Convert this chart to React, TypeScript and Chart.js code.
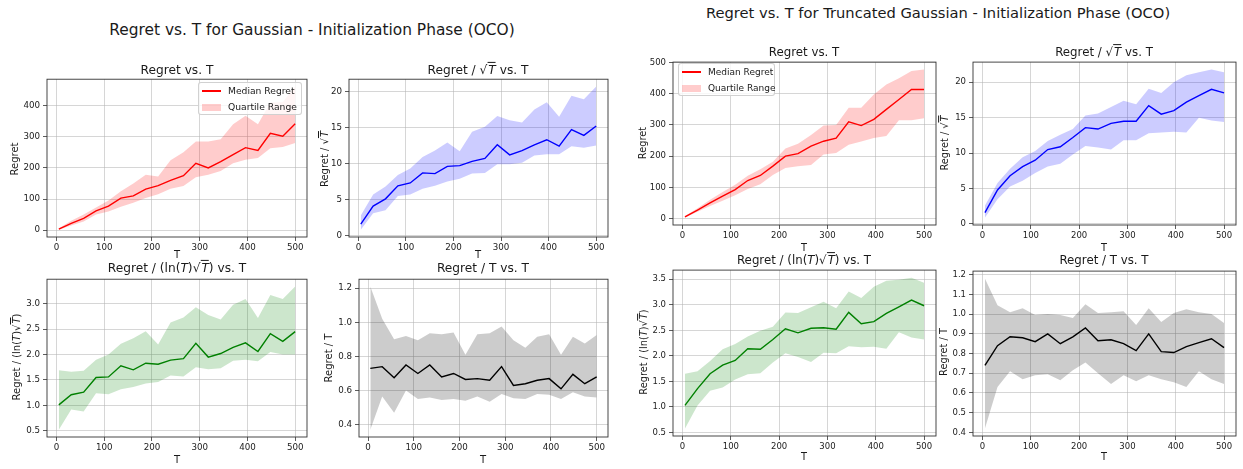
import React, { useEffect, useRef } from 'react';
import { Chart, registerables } from 'chart.js';

Chart.register(...registerables);

// ---------- data ----------
const T_VALUES = [5, 31, 57, 83, 109, 135, 161, 187, 213, 239, 266, 292, 318, 344, 370, 396, 422, 448, 474, 500];
const X_TICKS = [0, 100, 200, 300, 400, 500];

// Gaussian
const G_REG_MED = [3, 22, 38, 62, 77, 103, 110, 132, 143, 160, 175, 215, 200, 220, 243, 265, 256, 311, 302, 342];
const G_REG_HI = [6, 30, 50, 73, 95, 125, 150, 178, 172, 225, 250, 285, 285, 292, 340, 368, 340, 410, 412, 462];
const G_REG_LO = [1, 15, 28, 50, 60, 75, 88, 103, 115, 133, 142, 170, 178, 190, 215, 226, 232, 263, 267, 280];

const G_SQ_MED = [1.6, 4.1, 5.1, 6.9, 7.3, 8.7, 8.6, 9.6, 9.7, 10.3, 10.7, 12.6, 11.2, 11.8, 12.6, 13.3, 12.4, 14.7, 13.9, 15.2];
const G_SQ_HI = [2.8, 5.7, 6.8, 8.4, 9.3, 10.9, 11.8, 12.9, 11.7, 14.4, 15.1, 16.6, 16.0, 15.7, 17.5, 18.5, 16.5, 19.4, 18.9, 20.7];
const G_SQ_LO = [0.8, 3.1, 3.5, 5.5, 5.7, 6.5, 6.9, 7.5, 7.9, 8.6, 8.7, 9.9, 9.9, 10.1, 11.1, 11.3, 11.3, 12.4, 12.2, 12.5];

const G_LN_MED = [1.01, 1.21, 1.26, 1.55, 1.56, 1.78, 1.70, 1.83, 1.81, 1.89, 1.92, 2.22, 1.95, 2.02, 2.14, 2.23, 2.06, 2.41, 2.26, 2.45];
const G_LN_HI = [1.69, 1.66, 1.68, 1.90, 2.00, 2.21, 2.32, 2.46, 2.20, 2.63, 2.73, 2.93, 2.78, 2.69, 2.98, 3.09, 2.72, 3.17, 3.09, 3.34];
const G_LN_LO = [0.52, 0.92, 0.88, 1.24, 1.22, 1.32, 1.36, 1.43, 1.46, 1.59, 1.57, 1.75, 1.71, 1.73, 1.88, 1.90, 1.87, 2.05, 2.00, 2.00];

const G_T_MED = [0.73, 0.74, 0.675, 0.75, 0.70, 0.75, 0.68, 0.70, 0.665, 0.67, 0.66, 0.74, 0.63, 0.64, 0.66, 0.67, 0.61, 0.695, 0.64, 0.68];
const G_T_HI = [1.21, 1.02, 0.90, 0.92, 0.895, 0.935, 0.93, 0.94, 0.81, 0.93, 0.935, 0.975, 0.895, 0.85, 0.915, 0.93, 0.81, 0.915, 0.875, 0.925];
const G_T_LO = [0.37, 0.565, 0.47, 0.60, 0.55, 0.56, 0.545, 0.55, 0.54, 0.565, 0.535, 0.58, 0.555, 0.55, 0.58, 0.575, 0.55, 0.59, 0.565, 0.56];

// Truncated Gaussian
const TG_REG_MED = [5, 27, 50, 72, 93, 122, 138, 168, 200, 208, 232, 248, 258, 310, 298, 318, 350, 382, 414, 414];
const TG_REG_HI = [8, 33, 60, 85, 108, 137, 158, 182, 225, 240, 268, 298, 300, 355, 355, 398, 430, 450, 473, 478];
const TG_REG_LO = [3, 22, 40, 57, 75, 95, 110, 140, 162, 168, 172, 205, 210, 237, 247, 258, 265, 315, 315, 322];

const TG_SQ_MED = [1.6, 4.8, 6.8, 8.1, 9.0, 10.5, 10.9, 12.2, 13.6, 13.4, 14.2, 14.5, 14.5, 16.7, 15.5, 16.0, 17.2, 18.1, 19.0, 18.5];
const TG_SQ_HI = [2.6, 5.8, 7.8, 9.4, 10.3, 11.7, 12.6, 13.4, 15.3, 15.6, 16.5, 17.4, 16.9, 19.1, 18.5, 20.0, 21.0, 21.4, 21.8, 21.4];
const TG_SQ_LO = [0.9, 3.5, 5.3, 6.1, 7.2, 8.1, 8.5, 9.8, 11.0, 10.8, 10.5, 11.8, 11.8, 12.8, 12.9, 13.0, 12.9, 15.0, 14.6, 14.4];

const TG_LN_MED = [1.03, 1.36, 1.65, 1.82, 1.91, 2.14, 2.13, 2.32, 2.53, 2.45, 2.54, 2.55, 2.52, 2.85, 2.63, 2.67, 2.83, 2.96, 3.09, 2.98];
const TG_LN_HI = [1.65, 1.70, 1.90, 2.13, 2.23, 2.38, 2.49, 2.57, 2.85, 2.84, 2.95, 3.06, 2.93, 3.26, 3.13, 3.35, 3.47, 3.49, 3.53, 3.43];
const TG_LN_LO = [0.58, 1.03, 1.32, 1.38, 1.54, 1.64, 1.66, 1.87, 2.05, 1.98, 1.88, 2.06, 2.05, 2.19, 2.17, 2.18, 2.14, 2.46, 2.36, 2.32];

const TG_T_MED = [0.74, 0.84, 0.885, 0.88, 0.86, 0.90, 0.85, 0.885, 0.93, 0.865, 0.87, 0.85, 0.815, 0.90, 0.81, 0.805, 0.835, 0.855, 0.875, 0.83];
const TG_T_HI = [1.18, 1.045, 1.01, 1.03, 0.995, 1.00, 0.995, 0.98, 1.05, 1.005, 1.01, 1.015, 0.945, 1.03, 0.96, 1.005, 1.025, 1.01, 1.0, 0.955];
const TG_T_LO = [0.42, 0.63, 0.71, 0.67, 0.69, 0.695, 0.665, 0.715, 0.755, 0.70, 0.645, 0.69, 0.66, 0.69, 0.67, 0.655, 0.63, 0.71, 0.67, 0.645];

// tick labels
const G_REG_TICKS = [0, 100, 200, 300, 400];
const TG_REG_TICKS = [0, 100, 200, 300, 400, 500];
const SQ_TICKS = [0, 5, 10, 15, 20];
const G_LN_TICKS = [0.5, 1.0, 1.5, 2.0, 2.5, 3.0];
const TG_LN_TICKS = [0.5, 1.0, 1.5, 2.0, 2.5, 3.0, 3.5];
const G_T_TICKS = [0.4, 0.6, 0.8, 1.0, 1.2];
const TG_T_TICKS = [0.4, 0.5, 0.6, 0.7, 0.8, 0.9, 1.0, 1.1, 1.2];

// ---------- styling ----------
const FONT = '"DejaVu Sans", Verdana, sans-serif';
const YW = 42;
const XH = 20;
const PAD_T = 8;
const PAD_R = 16;

const STYLES: Record<string, { line: string; band: string }> = {
  red: { line: '#ff0000', band: 'rgba(255,0,0,0.2)' },
  blue: { line: '#0000ff', band: 'rgba(0,0,255,0.2)' },
  green: { line: '#008000', band: 'rgba(0,128,0,0.2)' },
  black: { line: '#000000', band: 'rgba(0,0,0,0.2)' },
};

const framePlugin = {
  id: 'frame',
  afterDraw(chart: any) {
    const { ctx, chartArea: a } = chart;
    ctx.save();
    ctx.strokeStyle = '#333';
    ctx.lineWidth = 0.9;
    ctx.strokeRect(a.left, a.top, a.right - a.left, a.bottom - a.top);
    ctx.restore();
  },
};

type PanelSpec = {
  L: number; R: number; T: number; B: number;
  med: number[]; lo: number[]; hi: number[];
  yTicks: number[]; dec: number; color: string; tickSize: number;
};

function Panel({ spec }: { spec: PanelSpec }) {
  const ref = useRef<HTMLCanvasElement>(null);
  const w = spec.R - spec.L + YW + PAD_R;
  const h = spec.B - spec.T + PAD_T + XH;
  useEffect(() => {
    const canvas = ref.current!;
    const st = STYLES[spec.color];
    const xmin = Math.min(...T_VALUES), xmax = Math.max(...T_VALUES);
    const xp = 0.05 * (xmax - xmin);
    const ymin = Math.min(...spec.lo), ymax = Math.max(...spec.hi);
    const yp = 0.05 * (ymax - ymin);
    const pts = (arr: number[]) => T_VALUES.map((t, i) => ({ x: t, y: arr[i] }));
    const grid = {
      color: 'rgba(176,176,176,0.65)',
      lineWidth: 0.8,
      tickColor: '#333',
      tickLength: 4,
      drawTicks: true,
    };
    const tickFont = { family: FONT, size: spec.tickSize };
    const chart = new Chart(canvas, {
      type: 'line',
      data: {
        datasets: [
          { data: pts(spec.med), borderColor: st.line, borderWidth: 1.4, pointRadius: 0, fill: false, tension: 0 },
          { data: pts(spec.lo), borderColor: 'rgba(0,0,0,0)', borderWidth: 1, pointRadius: 0, fill: false, tension: 0 },
          { data: pts(spec.hi), borderColor: 'rgba(0,0,0,0)', borderWidth: 1, pointRadius: 0, fill: '-1', backgroundColor: st.band, tension: 0 },
        ],
      },
      options: {
        animation: false,
        responsive: false,
        maintainAspectRatio: false,
        events: [],
        layout: { padding: { top: PAD_T, right: PAD_R, left: 0, bottom: 0 } },
        plugins: { legend: { display: false }, tooltip: { enabled: false }, title: { display: false } },
        scales: {
          x: {
            type: 'linear',
            min: xmin - xp,
            max: xmax + xp,
            afterBuildTicks: (s: any) => { s.ticks = X_TICKS.map((v) => ({ value: v })); },
            afterFit: (s: any) => { s.height = XH; },
            grid,
            border: { display: false },
            ticks: { font: tickFont, color: '#222', padding: 2, maxRotation: 0, autoSkip: false, callback: (v: any) => String(v) },
          },
          y: {
            type: 'linear',
            min: ymin - yp,
            max: ymax + yp,
            afterBuildTicks: (s: any) => { s.ticks = spec.yTicks.map((v) => ({ value: v })); },
            afterFit: (s: any) => { s.width = YW; },
            grid,
            border: { display: false },
            ticks: { font: tickFont, color: '#222', padding: 3, autoSkip: false, callback: (v: any) => Number(v).toFixed(spec.dec) },
          },
        },
      } as any,
      plugins: [framePlugin],
    });
    return () => chart.destroy();
  }, []);
  return (
    <div style={{ position: 'absolute', left: spec.L - YW, top: spec.T - PAD_T, width: w, height: h }}>
      <canvas ref={ref} width={w} height={h} style={{ width: w, height: h, display: 'block' }} />
    </div>
  );
}

const Sq = ({ children }: { children: any }) => (
  <span>√<span style={{ borderTop: '1px solid currentColor', fontStyle: 'italic', paddingLeft: 1 }}>{children}</span></span>
);

function Txt({ x, y, size, rot, children }: { x: number; y: number; size: number; rot?: boolean; children: any }) {
  return (
    <div
      style={{
        position: 'absolute', left: x, top: y, whiteSpace: 'nowrap', fontSize: size, lineHeight: 1,
        color: '#1a1a1a', fontFamily: FONT,
        transform: `translate(-50%,-50%)${rot ? ' rotate(-90deg)' : ''}`,
      }}
    >
      {children}
    </div>
  );
}

function Legend({ x, y, w, h, size }: { x: number; y: number; w: number; h: number; size: number }) {
  return (
    <div style={{ position: 'absolute', left: x, top: y, width: w, height: h, border: '1px solid rgba(204,204,204,0.9)', borderRadius: 3, background: 'rgba(255,255,255,0.8)', boxSizing: 'border-box', fontFamily: FONT, fontSize: size, color: '#1a1a1a' }}>
      <div style={{ position: 'absolute', left: 3, top: 7, width: 19, height: 1.5, background: '#ff0000' }} />
      <div style={{ position: 'absolute', left: 29, top: 8, transform: 'translateY(-50%)', whiteSpace: 'nowrap', lineHeight: 1 }}>Median Regret</div>
      <div style={{ position: 'absolute', left: 3, top: 20.5, width: 19, height: 7, background: 'rgba(255,0,0,0.2)' }} />
      <div style={{ position: 'absolute', left: 29, top: 24, transform: 'translateY(-50%)', whiteSpace: 'nowrap', lineHeight: 1 }}>Quartile Range</div>
    </div>
  );
}

const PANELS: PanelSpec[] = [
  { L: 47, R: 307, T: 79, B: 237, med: G_REG_MED, lo: G_REG_LO, hi: G_REG_HI, yTicks: G_REG_TICKS, dec: 0, color: 'red', tickSize: 8.7 },
  { L: 349, R: 608, T: 79, B: 237, med: G_SQ_MED, lo: G_SQ_LO, hi: G_SQ_HI, yTicks: SQ_TICKS, dec: 0, color: 'blue', tickSize: 8.7 },
  { L: 47, R: 307, T: 279, B: 437, med: G_LN_MED, lo: G_LN_LO, hi: G_LN_HI, yTicks: G_LN_TICKS, dec: 1, color: 'green', tickSize: 8.7 },
  { L: 359, R: 608, T: 279, B: 437, med: G_T_MED, lo: G_T_LO, hi: G_T_HI, yTicks: G_T_TICKS, dec: 1, color: 'black', tickSize: 8.7 },
  { L: 673, R: 936, T: 62, B: 225, med: TG_REG_MED, lo: TG_REG_LO, hi: TG_REG_HI, yTicks: TG_REG_TICKS, dec: 0, color: 'red', tickSize: 8.5 },
  { L: 973, R: 1236, T: 62, B: 225, med: TG_SQ_MED, lo: TG_SQ_LO, hi: TG_SQ_HI, yTicks: SQ_TICKS, dec: 0, color: 'blue', tickSize: 8.5 },
  { L: 673, R: 936, T: 270, B: 436, med: TG_LN_MED, lo: TG_LN_LO, hi: TG_LN_HI, yTicks: TG_LN_TICKS, dec: 1, color: 'green', tickSize: 8.5 },
  { L: 973, R: 1236, T: 271, B: 436, med: TG_T_MED, lo: TG_T_LO, hi: TG_T_HI, yTicks: TG_T_TICKS, dec: 1, color: 'black', tickSize: 8.5 },
];

export default function App() {
  const lnLabel = <span>Regret / (ln(<i>T</i>)<Sq>T</Sq>)</span>;
  const lnTitle = <span>Regret / (ln(<i>T</i>)<Sq>T</Sq>) vs. T</span>;
  return (
    <div style={{ position: 'fixed', left: 0, top: 0, width: 1243, height: 469, overflow: 'hidden', background: '#fff', fontFamily: FONT }}>
      {PANELS.map((p, i) => <Panel key={i} spec={p} />)}

      {/* Left figure */}
      <Txt x={312} y={31} size={15.4}>Regret vs. T for Gaussian - Initialization Phase (OCO)</Txt>
      <Txt x={177} y={70} size={12.2}>Regret vs. T</Txt>
      <Txt x={478} y={70} size={12.2}><span>Regret / <Sq>T</Sq> vs. T</span></Txt>
      <Txt x={177} y={268} size={12.2}>{lnTitle}</Txt>
      <Txt x={483} y={268} size={12.2}>Regret / T vs. T</Txt>
      <Txt x={15} y={159} size={10} rot>Regret</Txt>
      <Txt x={325} y={159} size={10} rot><span>Regret / <Sq>T</Sq></span></Txt>
      <Txt x={17} y={357} size={10} rot>{lnLabel}</Txt>
      <Txt x={329} y={358} size={10} rot>Regret / T</Txt>
      <Txt x={177} y={255} size={10}>T</Txt>
      <Txt x={478} y={255} size={10}>T</Txt>
      <Txt x={177} y={460} size={10}>T</Txt>
      <Txt x={483} y={460} size={10}>T</Txt>
      <Legend x={198} y={82} w={104} h={33} size={9.2} />

      {/* Right figure */}
      <Txt x={938} y={13} size={14.7}>Regret vs. T for Truncated Gaussian - Initialization Phase (OCO)</Txt>
      <Txt x={804} y={53} size={11.8}>Regret vs. T</Txt>
      <Txt x={1104} y={53} size={11.8}><span>Regret / <Sq>T</Sq> vs. T</span></Txt>
      <Txt x={804} y={261} size={11.8}>{lnTitle}</Txt>
      <Txt x={1104} y={261} size={11.8}>Regret / T vs. T</Txt>
      <Txt x={643} y={143} size={9.8} rot>Regret</Txt>
      <Txt x={945} y={143} size={9.8} rot><span>Regret / <Sq>T</Sq></span></Txt>
      <Txt x={644} y={352} size={9.8} rot>{lnLabel}</Txt>
      <Txt x={944} y={352} size={9.8} rot>Regret / T</Txt>
      <Txt x={804} y={248} size={9.8}>T</Txt>
      <Txt x={1104} y={248} size={9.8}>T</Txt>
      <Txt x={804} y={457} size={9.8}>T</Txt>
      <Txt x={1104} y={457} size={9.8}>T</Txt>
      <Legend x={678} y={63} w={97} h={33} size={9} />
    </div>
  );
}
